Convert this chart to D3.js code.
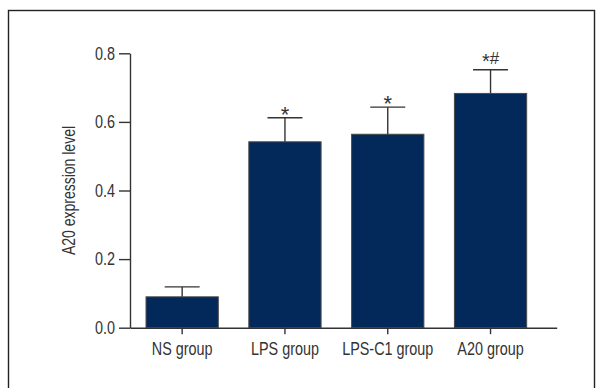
<!DOCTYPE html>
<html>
<head>
<meta charset="utf-8">
<script src="https://cdn.jsdelivr.net/npm/d3@7/dist/d3.min.js"></script>
<style>
  html, body { margin: 0; padding: 0; background: #fff; }
  svg { display: block; }
  .axis text { font-family: "Liberation Sans", Arial, sans-serif; font-size: 18px; fill: #333; }
  .axis path, .axis line { stroke: #333; stroke-width: 1.4px; }
</style>
</head>
<body>
<svg id="chart" width="599" height="388"></svg>
<script>
// Group names, mean A20 expression and standard deviation per group
const groups = ["NS group", "LPS group", "LPS-C1 group", "A20 group"];
const means = [0.090, 0.542, 0.564, 0.683];
const sds = [0.029, 0.070, 0.079, 0.069];
const marks = ["", "*", "*", "*#"];
const yTicks = [0.0, 0.2, 0.4, 0.6, 0.8];

// horizontal squeeze that gives a condensed look to the labels
const squeeze = 0.8;
function condense(sel) {
  sel.each(function () {
    const t = d3.select(this);
    const x0 = +t.attr("x") || 0;
    t.attr("x", x0 / squeeze).attr("transform", `scale(${squeeze},1)`);
  });
}

const svg = d3.select("#chart");

// outer frame
svg.append("rect")
  .attr("x", 8.5).attr("y", 10.5)
  .attr("width", 586).attr("height", 420)
  .attr("fill", "none").attr("stroke", "#222").attr("stroke-width", 1.4);

const x = d3.scaleBand()
  .domain(groups)
  .range([130, 556.7])
  .paddingInner(0.297)
  .paddingOuter(0.224)
  .align(0.348);

const y = d3.scaleLinear().domain([0, 0.8]).range([327.7, 53.3]);

// bars
svg.append("g").selectAll("rect")
  .data(groups)
  .join("rect")
  .attr("x", d => x(d))
  .attr("y", (d, i) => y(means[i]))
  .attr("width", x.bandwidth())
  .attr("height", (d, i) => y(0) - y(means[i]))
  .attr("fill", "#02295a")
  .attr("stroke", "#4a4a4a")
  .attr("stroke-width", 1);

// error bars (upper whisker only)
const capHalf = 17.5;
const err = svg.append("g").attr("stroke", "#333").attr("stroke-width", 1.4);
groups.forEach((g, i) => {
  const cx = x(g) + x.bandwidth() / 2;
  err.append("line")
    .attr("x1", cx).attr("x2", cx)
    .attr("y1", y(means[i])).attr("y2", y(means[i] + sds[i]));
  err.append("line")
    .attr("x1", cx - capHalf).attr("x2", cx + capHalf)
    .attr("y1", y(means[i] + sds[i])).attr("y2", y(means[i] + sds[i]));
});

// significance marks above the whiskers
groups.forEach((g, i) => {
  const m = marks[i];
  if (!m) return;
  const cx = x(g) + x.bandwidth() / 2;
  const top = y(means[i] + sds[i]);
  const t = svg.append("text")
    .attr("x", cx)
    .attr("text-anchor", "middle")
    .attr("fill", "#333")
    .attr("font-family", "'Liberation Sans', Arial, sans-serif");
  if (m === "*") {
    t.attr("y", top + 4.3).attr("font-size", 22).text("*");
  } else {
    t.attr("y", top - 5.4);
    t.append("tspan").attr("font-size", 20).attr("dy", 3.5).text("*");
    t.append("tspan").attr("font-size", 17).attr("dy", -3.5).text("#");
  }
});

// y axis
const yAxis = svg.append("g")
  .attr("class", "axis")
  .attr("transform", "translate(130,0)")
  .call(d3.axisLeft(y).tickValues(yTicks).tickFormat(d3.format(".1f")).tickSize(11).tickSizeOuter(0).tickPadding(4));
yAxis.selectAll(".tick text").call(condense);

// x axis
const xAxis = svg.append("g")
  .attr("class", "axis")
  .attr("transform", "translate(0,327.7)")
  .call(d3.axisBottom(x).tickSize(6.5).tickSizeOuter(0).tickPadding(8));
xAxis.selectAll(".tick text").call(condense);

// y axis title
svg.append("text")
  .attr("transform", `translate(75,190.5) rotate(-90) scale(${squeeze},1)`)
  .attr("text-anchor", "middle")
  .attr("font-family", "'Liberation Sans', Arial, sans-serif")
  .attr("font-size", 17.5)
  .attr("fill", "#333")
  .text("A20 expression level");
</script>
</body>
</html>
